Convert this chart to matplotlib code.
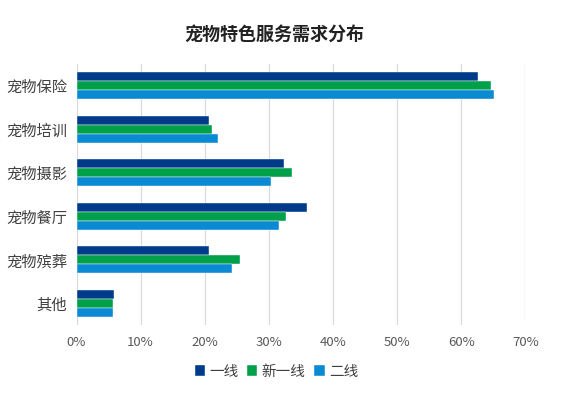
import numpy as np
import matplotlib
matplotlib.use("Agg")
import matplotlib.pyplot as plt
from matplotlib.ticker import FuncFormatter

plt.rcParams["font.family"] = ["Noto Sans CJK SC", "DejaVu Sans"]

# ---- data ----
categories = ["宠物保险", "宠物培训", "宠物摄影", "宠物餐厅", "宠物殡葬", "其他"]
series_names = ["一线", "新一线", "二线"]
tier1 = [62.6, 20.7, 32.3, 35.9, 20.7, 5.9]
new_tier1 = [64.6, 21.2, 33.6, 32.7, 25.5, 5.7]
tier2 = [65.1, 22.1, 30.4, 31.6, 24.3, 5.75]
colors = ["#003B8A", "#00A04A", "#0A8AD2"]

fig = plt.figure(figsize=(5.71, 3.97), dpi=100)
ax = fig.add_axes([0.134, 0.181, 0.786, 0.658])

y = np.arange(len(categories))
h = 0.207
for k, (vals, name) in enumerate(zip([tier1, new_tier1, tier2], series_names)):
    ax.barh(y + (k - 1) * h, vals, height=h, color=colors[k], label=name,
            edgecolor="white", linewidth=0.3, zorder=3)

ax.set_xlim(0, 70)
ax.set_ylim(len(categories) - 0.5, -0.5)
ax.set_xticks(np.arange(0, 71, 10))
ax.xaxis.set_major_formatter(FuncFormatter(lambda v, p: f"{int(v)}%"))
ax.set_yticks(y)
ax.set_yticklabels(categories)

ax.grid(axis="x", color="#D9D9D9", linewidth=0.9, zorder=0)
for s in ax.spines.values():
    s.set_visible(False)
ax.tick_params(axis="x", length=0, pad=8, labelsize=9.5, labelcolor="#595959")
ax.tick_params(axis="y", length=0, pad=7, labelsize=11, labelcolor="#404040")

fig.text(0.48, 0.913, "宠物特色服务需求分布", ha="center", va="center",
         fontsize=13, fontweight="bold", color="#222222")

handles, labels = ax.get_legend_handles_labels()
fig.legend(handles, labels, loc="center", bbox_to_anchor=(0.484, 0.064), ncol=3,
           frameon=False, fontsize=10.5, handlelength=0.7, handleheight=0.7,
           handletextpad=0.3, columnspacing=0.6, labelcolor="#404040")

fig.savefig("out.png", dpi=100)
